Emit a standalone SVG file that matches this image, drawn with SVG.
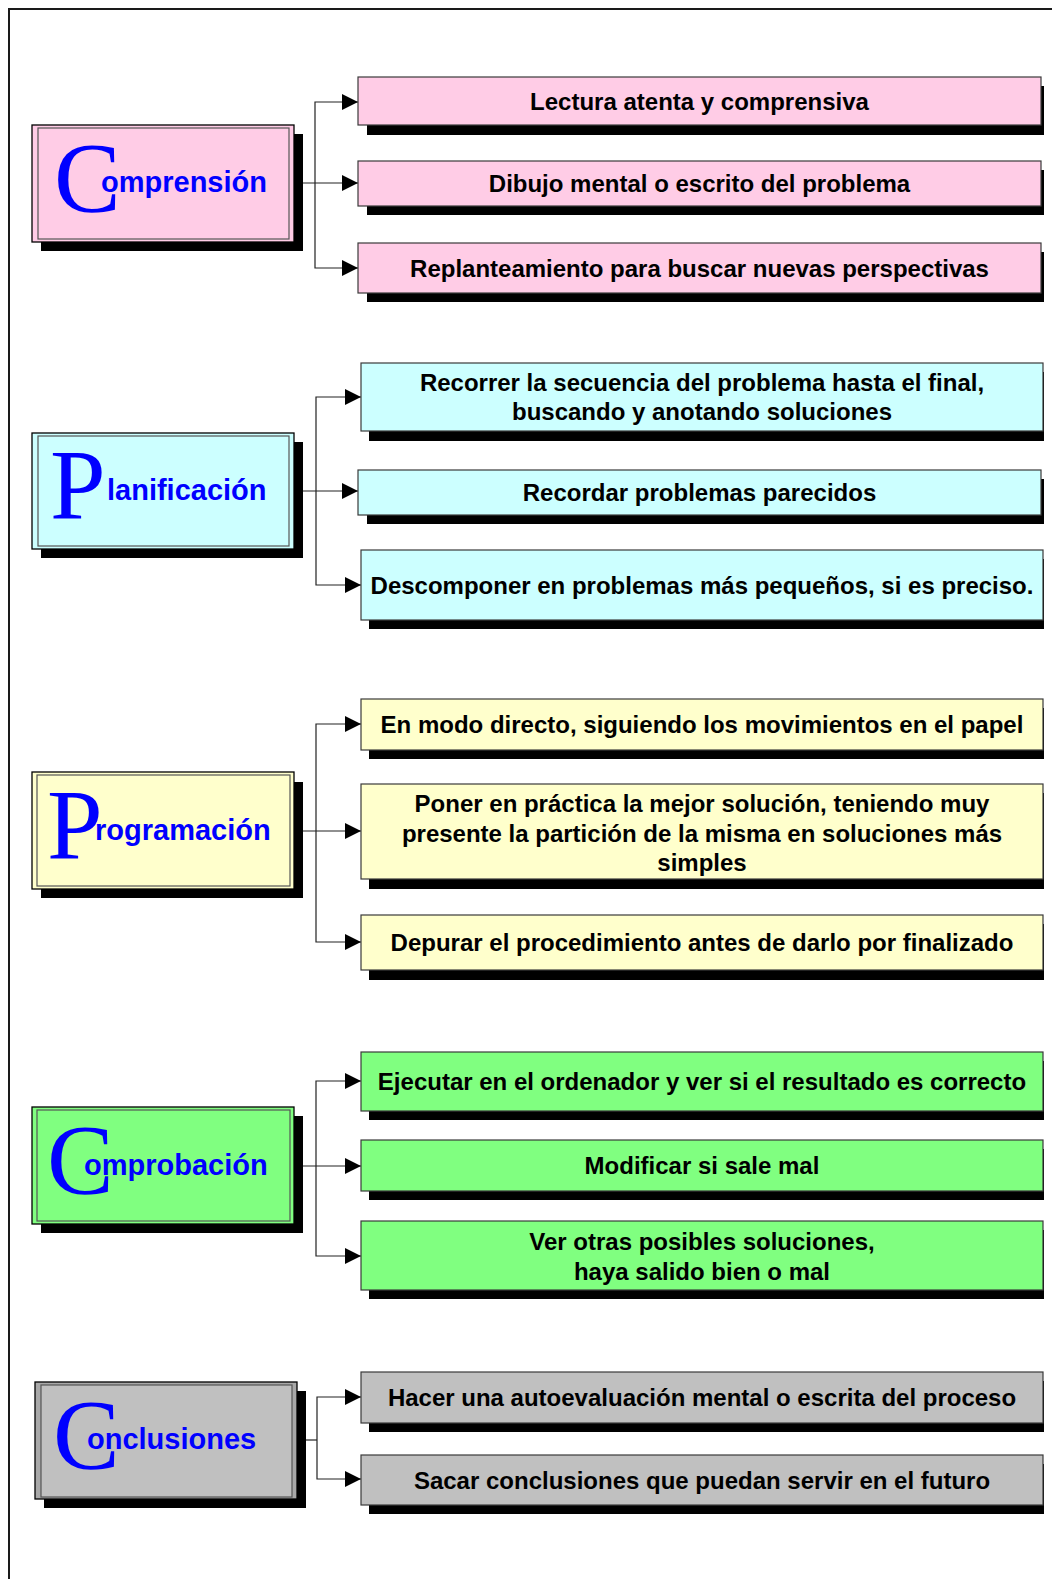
<svg xmlns="http://www.w3.org/2000/svg" width="1052" height="1579" viewBox="0 0 1052 1579">
  <style>
    .frame { fill: none; stroke: #1a1a1a; stroke-width: 2; }
    .shadow { fill: #000; }
    .outer { stroke: #000; stroke-width: 1.3; }
    .inner { fill: none; stroke: #555; stroke-width: 1.2; }
    .item { stroke: #3a3a3a; stroke-width: 1.2; }
    .pink { fill: #FFCCE6; }
    .cyan { fill: #CCFFFF; }
    .yellow { fill: #FFFFCC; }
    .green { fill: #80FF80; }
    .gray { fill: #C0C0C0; }
    .grayband { fill: #A8A8A8; }
    .big { font-family: "Liberation Serif", "Times New Roman", serif; font-size: 100px; fill: #0000FF; }
    .title { font-family: "Liberation Sans", Arial, sans-serif; font-weight: bold; font-size: 29px; fill: #0000FF; }
    .txt { font-family: "Liberation Sans", Arial, sans-serif; font-weight: bold; font-size: 24px; fill: #000; text-anchor: middle; }
    .conn { fill: none; stroke: #222; stroke-width: 1.2; marker-end: url(#arrow); }
    .trunk { fill: none; stroke: #222; stroke-width: 1.2; }
  </style>
  <defs>
    <marker id="arrow" markerUnits="userSpaceOnUse" markerWidth="17" markerHeight="17" refX="16" refY="8" orient="auto">
      <path d="M0,0 L16,8 L0,16 Z" fill="#000"/>
    </marker>
  </defs>

  <!-- page frame (right and bottom edges run off the page) -->
  <rect class="frame" x="9" y="9" width="1100" height="1650"/>

  <!-- connectors -->
  <g id="connectors">
    <!-- Comprensión -->
    <path class="conn" d="M303,183 H358"/>
    <path class="conn" d="M315,183 V102 H358"/>
    <path class="conn" d="M315,183 V268 H358"/>
    <!-- Planificación -->
    <path class="conn" d="M303,491 H358"/>
    <path class="conn" d="M316,491 V397 H361"/>
    <path class="conn" d="M316,491 V585 H361"/>
    <!-- Programación -->
    <path class="conn" d="M303,831 H361"/>
    <path class="conn" d="M316,831 V724 H361"/>
    <path class="conn" d="M316,831 V942 H361"/>
    <!-- Comprobación -->
    <path class="conn" d="M303,1166 H361"/>
    <path class="conn" d="M316,1166 V1081 H361"/>
    <path class="conn" d="M316,1166 V1256 H361"/>
    <!-- Conclusiones -->
    <path class="trunk" d="M306,1440 H317"/>
    <path class="conn" d="M317,1440 V1397 H361"/>
    <path class="conn" d="M317,1440 V1479 H361"/>
  </g>

  <!-- ===== Comprensión ===== -->
  <g id="comprension">
    <rect class="shadow" x="41" y="134" width="262" height="117"/>
    <rect class="outer pink" x="32" y="125" width="262" height="117"/>
    <rect class="inner" x="38" y="128" width="251" height="111"/>
    <text class="big" x="54" y="211">C</text>
    <text class="title" x="101" y="192">omprensión</text>
  </g>
  <g id="c1">
    <rect class="shadow" x="367" y="86" width="677" height="49"/>
    <rect class="item pink" x="358" y="77" width="683" height="48"/>
    <text class="txt" x="699.5" y="110">Lectura atenta y comprensiva</text>
  </g>
  <g id="c2">
    <rect class="shadow" x="367" y="170" width="677" height="45"/>
    <rect class="item pink" x="358" y="161" width="683" height="45"/>
    <text class="txt" x="699.5" y="192">Dibujo mental o escrito del problema</text>
  </g>
  <g id="c3">
    <rect class="shadow" x="367" y="252" width="677" height="50"/>
    <rect class="item pink" x="358" y="243" width="683" height="50"/>
    <text class="txt" x="699.5" y="277">Replanteamiento para buscar nuevas perspectivas</text>
  </g>

  <!-- ===== Planificación ===== -->
  <g id="planificacion">
    <rect class="shadow" x="41" y="442" width="262" height="116"/>
    <rect class="outer cyan" x="32" y="433" width="262" height="116"/>
    <rect class="inner" x="38" y="436" width="251" height="110"/>
    <text class="big" x="50" y="518">P</text>
    <text class="title" x="107" y="500">lanificación</text>
  </g>
  <g id="p1">
    <rect class="shadow" x="369" y="372" width="675" height="69"/>
    <rect class="item cyan" x="361" y="363" width="682" height="68"/>
    <text class="txt" x="702" y="391">Recorrer la secuencia del problema hasta el final,</text>
    <text class="txt" x="702" y="420">buscando y anotando soluciones</text>
  </g>
  <g id="p2">
    <rect class="shadow" x="367" y="479" width="677" height="45"/>
    <rect class="item cyan" x="358" y="470" width="683" height="45"/>
    <text class="txt" x="699.5" y="501">Recordar problemas parecidos</text>
  </g>
  <g id="p3">
    <rect class="shadow" x="369" y="559" width="675" height="70"/>
    <rect class="item cyan" x="361" y="550" width="682" height="70"/>
    <text class="txt" x="702" y="593.5">Descomponer en problemas más pequeños, si es preciso.</text>
  </g>

  <!-- ===== Programación ===== -->
  <g id="programacion">
    <rect class="shadow" x="41" y="782" width="262" height="116"/>
    <rect class="outer yellow" x="32" y="772" width="262" height="117"/>
    <rect class="inner" x="37" y="775" width="253" height="111"/>
    <text class="big" x="47" y="858">P</text>
    <text class="title" x="95" y="840">rogramación</text>
  </g>
  <g id="g1">
    <rect class="shadow" x="369" y="708" width="675" height="51"/>
    <rect class="item yellow" x="361" y="699" width="682" height="51"/>
    <text class="txt" x="702" y="733">En modo directo, siguiendo los movimientos en el papel</text>
  </g>
  <g id="g2">
    <rect class="shadow" x="369" y="793" width="675" height="96"/>
    <rect class="item yellow" x="361" y="784" width="682" height="95"/>
    <text class="txt" x="702" y="812">Poner en práctica la mejor solución, teniendo muy</text>
    <text class="txt" x="702" y="842">presente la partición de la misma en soluciones más</text>
    <text class="txt" x="702" y="871">simples</text>
  </g>
  <g id="g3">
    <rect class="shadow" x="369" y="924" width="675" height="56"/>
    <rect class="item yellow" x="361" y="915" width="682" height="55"/>
    <text class="txt" x="702" y="951">Depurar el procedimiento antes de darlo por finalizado</text>
  </g>

  <!-- ===== Comprobación ===== -->
  <g id="comprobacion">
    <rect class="shadow" x="41" y="1116" width="262" height="117"/>
    <rect class="outer green" x="32" y="1107" width="262" height="117"/>
    <rect class="inner" x="37" y="1110" width="253" height="111"/>
    <text class="big" x="47" y="1193">C</text>
    <text class="title" x="84" y="1175">omprobación</text>
  </g>
  <g id="v1">
    <rect class="shadow" x="369" y="1061" width="675" height="59"/>
    <rect class="item green" x="361" y="1052" width="682" height="59"/>
    <text class="txt" x="702" y="1090">Ejecutar en el ordenador y ver si el resultado es correcto</text>
  </g>
  <g id="v2">
    <rect class="shadow" x="369" y="1149" width="675" height="51"/>
    <rect class="item green" x="361" y="1140" width="682" height="51"/>
    <text class="txt" x="702" y="1174">Modificar si sale mal</text>
  </g>
  <g id="v3">
    <rect class="shadow" x="369" y="1230" width="675" height="69"/>
    <rect class="item green" x="361" y="1221" width="682" height="69"/>
    <text class="txt" x="702" y="1250">Ver otras posibles soluciones,</text>
    <text class="txt" x="702" y="1280">haya salido bien o mal</text>
  </g>

  <!-- ===== Conclusiones ===== -->
  <g id="conclusiones">
    <rect class="shadow" x="44" y="1391" width="262" height="117"/>
    <rect class="outer grayband" x="35" y="1382" width="262" height="117"/>
    <rect class="gray" x="41" y="1385" width="251" height="112"/>
    <rect class="inner" x="41" y="1385" width="251" height="112"/>
    <text class="big" x="53" y="1468">C</text>
    <text class="title" x="87" y="1449">onclusiones</text>
  </g>
  <g id="k1">
    <rect class="shadow" x="369" y="1381" width="675" height="51"/>
    <rect class="item gray" x="361" y="1372" width="682" height="51"/>
    <text class="txt" x="702" y="1406">Hacer una autoevaluación mental o escrita del proceso</text>
  </g>
  <g id="k2">
    <rect class="shadow" x="369" y="1464" width="675" height="50"/>
    <rect class="item gray" x="361" y="1455" width="682" height="50"/>
    <text class="txt" x="702" y="1488.5">Sacar conclusiones que puedan servir en el futuro</text>
  </g>
</svg>
